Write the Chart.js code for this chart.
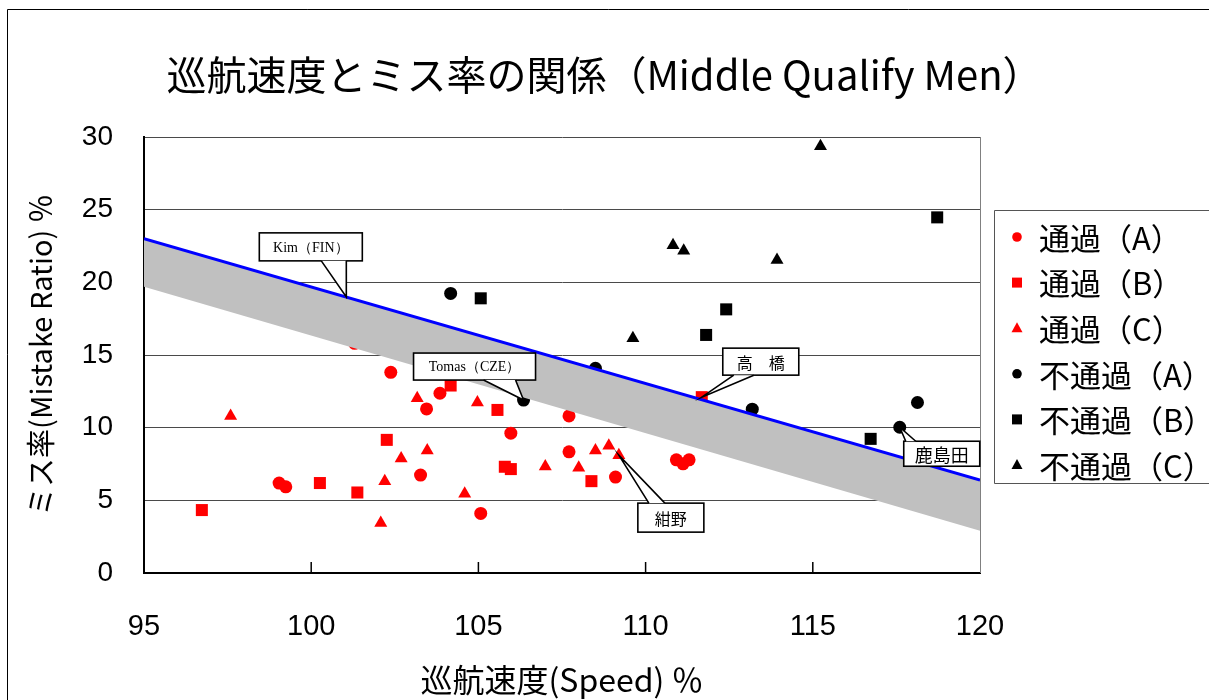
<!DOCTYPE html>
<html lang="ja">
<head>
<meta charset="utf-8">
<title>巡航速度とミス率の関係</title>
<script src="https://cdn.jsdelivr.net/npm/chart.js@4.4.1/dist/chart.umd.min.js"></script>
<style>
  html, body { margin: 0; padding: 0; background: #fff; overflow: hidden; }
  canvas { display: block; }
</style>
</head>
<body>
<canvas id="missChart" width="1209" height="700"></canvas>
<script>
// values (speed %, mistake ratio %)
const passAx = [101.3, 102.38, 103.85, 103.45, 105.97, 99.04, 99.24, 103.27, 105.07, 107.71, 107.71, 109.1, 110.92, 111.12, 111.3];
const passAy = [15.8, 13.81, 12.37, 11.29, 9.62, 6.19, 5.93, 6.74, 4.1, 10.81, 8.34, 6.6, 7.79, 7.51, 7.79];
const passBx = [104.17, 105.57, 102.26, 105.79, 105.97, 100.26, 101.38, 96.73, 108.38, 111.68];
const passBy = [12.9, 11.22, 9.16, 7.31, 7.15, 6.19, 5.54, 4.33, 6.32, 12.1];
const passCx = [97.59, 103.17, 104.97, 103.47, 102.69, 107.0, 102.2, 104.59, 102.08, 108.5, 108.9, 109.2, 108.0];
const passCy = [10.81, 12.03, 11.73, 8.43, 7.88, 7.33, 6.32, 5.45, 3.44, 8.43, 8.75, 8.11, 7.24];
const failAx = [104.17, 108.5, 106.35, 113.19, 118.13, 117.6];
const failAy = [19.24, 14.09, 11.9, 11.27, 11.73, 10.03];
const failBx = [105.07, 118.72, 112.41, 111.81, 116.73];
const failBy = [18.9, 24.47, 18.14, 16.38, 9.23];
const failCx = [115.23, 110.82, 111.14, 113.93, 109.62];
const failCy = [29.37, 22.56, 22.17, 21.53, 16.15];

// borderline and grey band
const lineX = [95, 120];
const lineY = [23.0, 6.4];
const bandLowY = [19.7, 2.9];

const seriesLabels = ['通過（A）', '通過（B）', '通過（C）', '不通過（A）', '不通過（B）', '不通過（C）'];

// callouts
const calloutNames = ['Kim（FIN）', 'Tomas（CZE）', '高　橋', '紺野', '鹿島田'];
const calloutX = [101.05, 106.35, 111.68, 109.2, 117.6];
const calloutY = [19.0, 11.9, 12.1, 8.11, 10.03];

const xTicks = [100, 105, 110, 115];

// ---- styles / layout ----
const JP = '"Noto Sans CJK JP", "Noto Sans", sans-serif';
const NUM = '"Liberation Sans", Arial, sans-serif';
const SERIF = '"Liberation Serif", "DejaVu Serif", serif';

const calloutBoxes = [
  { dx: -87, dy: -64, w: 103, h: 28, edge: 'bottom', b0: -25, b1: 0, font: '14px ' + SERIF },
  { dx: -110, dy: -47, w: 122, h: 27, edge: 'bottom', b0: -40, b1: -8, font: '14px ' + SERIF },
  { dx: 21, dy: -49, w: 76, h: 27, edge: 'bottom', b0: 32, b1: 52, font: '16px ' + JP },
  { dx: 19, dy: 48, w: 66, h: 29, edge: 'top', b0: 30, b1: 46, font: '16px ' + JP },
  { dx: 4, dy: 14, w: 76, h: 25, edge: 'top', b0: 6, b1: 16, font: '18px ' + JP }
];

function pts(xs, ys) {
  return xs.map((x, i) => ({ x: x, y: ys[i] }));
}

function markerSet(label, xs, ys, color, style) {
  const r = style === 'circle' ? 6.5 : (style === 'rect' ? 8.5 : 7.5);
  return {
    label: label,
    data: pts(xs, ys),
    pointStyle: style,
    pointRadius: r,
    pointHoverRadius: r,
    pointBackgroundColor: color,
    pointBorderColor: color,
    pointBorderWidth: 0,
    showLine: false
  };
}

const RED = '#ff0000';
const BLACK = '#000000';

const datasets = [
  {
    label: 'line',
    data: pts(lineX, lineY),
    showLine: true,
    pointRadius: 0,
    borderColor: '#0000ff',
    borderWidth: 3,
    fill: false
  },
  {
    label: 'band',
    data: pts(lineX, bandLowY),
    showLine: true,
    pointRadius: 0,
    borderWidth: 0,
    borderColor: 'rgba(0,0,0,0)',
    backgroundColor: '#c0c0c0',
    fill: '-1'
  },
  markerSet(seriesLabels[0], passAx, passAy, RED, 'circle'),
  markerSet(seriesLabels[1], passBx, passBy, RED, 'rect'),
  markerSet(seriesLabels[2], passCx, passCy, RED, 'triangle'),
  markerSet(seriesLabels[3], failAx, failAy, BLACK, 'circle'),
  markerSet(seriesLabels[4], failBx, failBy, BLACK, 'rect'),
  markerSet(seriesLabels[5], failCx, failCy, BLACK, 'triangle')
];

function drawMarker(ctx, style, x, y, color) {
  ctx.fillStyle = color;
  ctx.beginPath();
  if (style === 'circle') {
    ctx.arc(x, y, 4.8, 0, Math.PI * 2);
  } else if (style === 'rect') {
    ctx.rect(x - 5, y - 5, 10, 10);
  } else {
    ctx.moveTo(x, y - 6);
    ctx.lineTo(x + 5.5, y + 4);
    ctx.lineTo(x - 5.5, y + 4);
    ctx.closePath();
  }
  ctx.fill();
}

function drawCallout(ctx, tx, ty, b, text) {
  const left = tx + b.dx, top = ty + b.dy;
  const edgeY = b.edge === 'bottom' ? top + b.h : top;
  ctx.save();
  ctx.fillStyle = '#fff';
  ctx.strokeStyle = '#000';
  ctx.lineWidth = 1.6;
  ctx.fillRect(left, top, b.w, b.h);
  ctx.strokeRect(left, top, b.w, b.h);
  // pointer wedge
  ctx.beginPath();
  ctx.moveTo(tx + b.b0, edgeY);
  ctx.lineTo(tx, ty);
  ctx.lineTo(tx + b.b1, edgeY);
  ctx.closePath();
  ctx.fill();
  ctx.beginPath();
  ctx.moveTo(tx + b.b0, edgeY);
  ctx.lineTo(tx, ty);
  ctx.lineTo(tx + b.b1, edgeY);
  ctx.stroke();
  ctx.fillStyle = '#000';
  ctx.font = b.font;
  ctx.textAlign = 'center';
  ctx.textBaseline = 'middle';
  ctx.fillText(text, left + b.w / 2, top + b.h / 2 + 1);
  ctx.restore();
}

const extras = {
  id: 'extras',
  beforeDraw(chart) {
    const ctx = chart.ctx;
    ctx.save();
    ctx.fillStyle = '#fff';
    ctx.fillRect(0, 0, chart.width, chart.height);
    ctx.strokeStyle = '#000';
    ctx.lineWidth = 1;
    ctx.beginPath();
    ctx.moveTo(7.5, chart.height);
    ctx.lineTo(7.5, 9.5);
    ctx.lineTo(chart.width, 9.5);
    ctx.stroke();
    ctx.restore();
  },
  afterDraw(chart) {
    const ctx = chart.ctx;
    const xs = chart.scales.x, ys = chart.scales.y;
    const a = chart.chartArea;
    ctx.save();
    // right frame of plot area
    ctx.strokeStyle = '#808080';
    ctx.lineWidth = 1;
    ctx.beginPath();
    ctx.moveTo(Math.round(a.right) + 0.5, a.top);
    ctx.lineTo(Math.round(a.right) + 0.5, a.bottom);
    ctx.stroke();
    // inside tick marks on x axis
    ctx.strokeStyle = '#000';
    ctx.lineWidth = 1.5;
    xTicks.forEach(v => {
      const px = xs.getPixelForValue(v);
      ctx.beginPath();
      ctx.moveTo(px, a.bottom);
      ctx.lineTo(px, a.bottom - 11);
      ctx.stroke();
    });
    ctx.restore();

    // callouts
    calloutNames.forEach((name, i) => {
      drawCallout(ctx, xs.getPixelForValue(calloutX[i]), ys.getPixelForValue(calloutY[i]), calloutBoxes[i], name);
    });

    // legend (box runs off the right edge)
    ctx.save();
    ctx.fillStyle = '#fff';
    ctx.fillRect(994.5, 210.5, 230, 273);
    ctx.strokeStyle = '#555';
    ctx.lineWidth = 1;
    ctx.beginPath();
    ctx.moveTo(chart.width + 5, 210.5);
    ctx.lineTo(994.5, 210.5);
    ctx.lineTo(994.5, 483.5);
    ctx.lineTo(chart.width + 5, 483.5);
    ctx.stroke();
    ctx.font = '31px ' + JP;
    ctx.textBaseline = 'middle';
    ctx.textAlign = 'left';
    chart.data.datasets.slice(2).forEach((ds, i) => {
      const y = 237 + i * 45.6;
      drawMarker(ctx, ds.pointStyle, 1017, y, ds.pointBackgroundColor);
      ctx.fillStyle = '#000';
      ctx.fillText(ds.label, 1039, y + 1);
    });
    ctx.restore();
  }
};

const ctx = document.getElementById('missChart').getContext('2d');
new Chart(ctx, {
  type: 'scatter',
  data: { datasets: datasets },
  options: {
    responsive: false,
    animation: false,
    events: [],
    layout: { padding: 0 },
    plugins: {
      legend: { display: false },
      tooltip: { enabled: false },
      title: {
        display: true,
        text: '巡航速度とミス率の関係（Middle Qualify Men）',
        color: '#000',
        font: { family: JP, size: 40, weight: 'normal', lineHeight: 1.2 },
        padding: { top: 51, bottom: 38 }
      }
    },
    scales: {
      x: {
        type: 'linear',
        min: 95,
        max: 120,
        afterFit: s => { s.height = 127; },
        ticks: {
          stepSize: 5,
          color: '#000',
          padding: 37,
          font: { family: NUM, size: 29 }
        },
        grid: { display: false, drawTicks: false },
        border: { display: true, color: '#000', width: 2 },
        title: {
          display: true,
          text: '巡航速度(Speed) ％',
          color: '#000',
          font: { family: JP, size: 32, lineHeight: 1.2 },
          padding: { top: 0, bottom: 1 }
        }
      },
      y: {
        type: 'linear',
        min: 0,
        max: 30,
        afterFit: s => { s.width = 144; },
        ticks: {
          stepSize: 5,
          color: '#000',
          padding: 31,
          font: { family: NUM, size: 28 }
        },
        grid: { color: '#4a4a4a', lineWidth: 1, drawTicks: false },
        border: { display: true, color: '#000', width: 2 },
        title: {
          display: true,
          text: 'ミス率(Mistake Ratio) ％',
          color: '#000',
          font: { family: JP, size: 29, lineHeight: 1.2 },
          padding: { top: 24, bottom: 0 }
        }
      },
      // empty right-hand box that keeps room for the legend
      side: {
        type: 'linear',
        position: 'right',
        display: true,
        afterFit: s => { s.width = 229; },
        ticks: { display: false },
        grid: { display: false, drawTicks: false },
        border: { display: false }
      }
    }
  },
  plugins: [extras]
});
</script>
</body>
</html>
